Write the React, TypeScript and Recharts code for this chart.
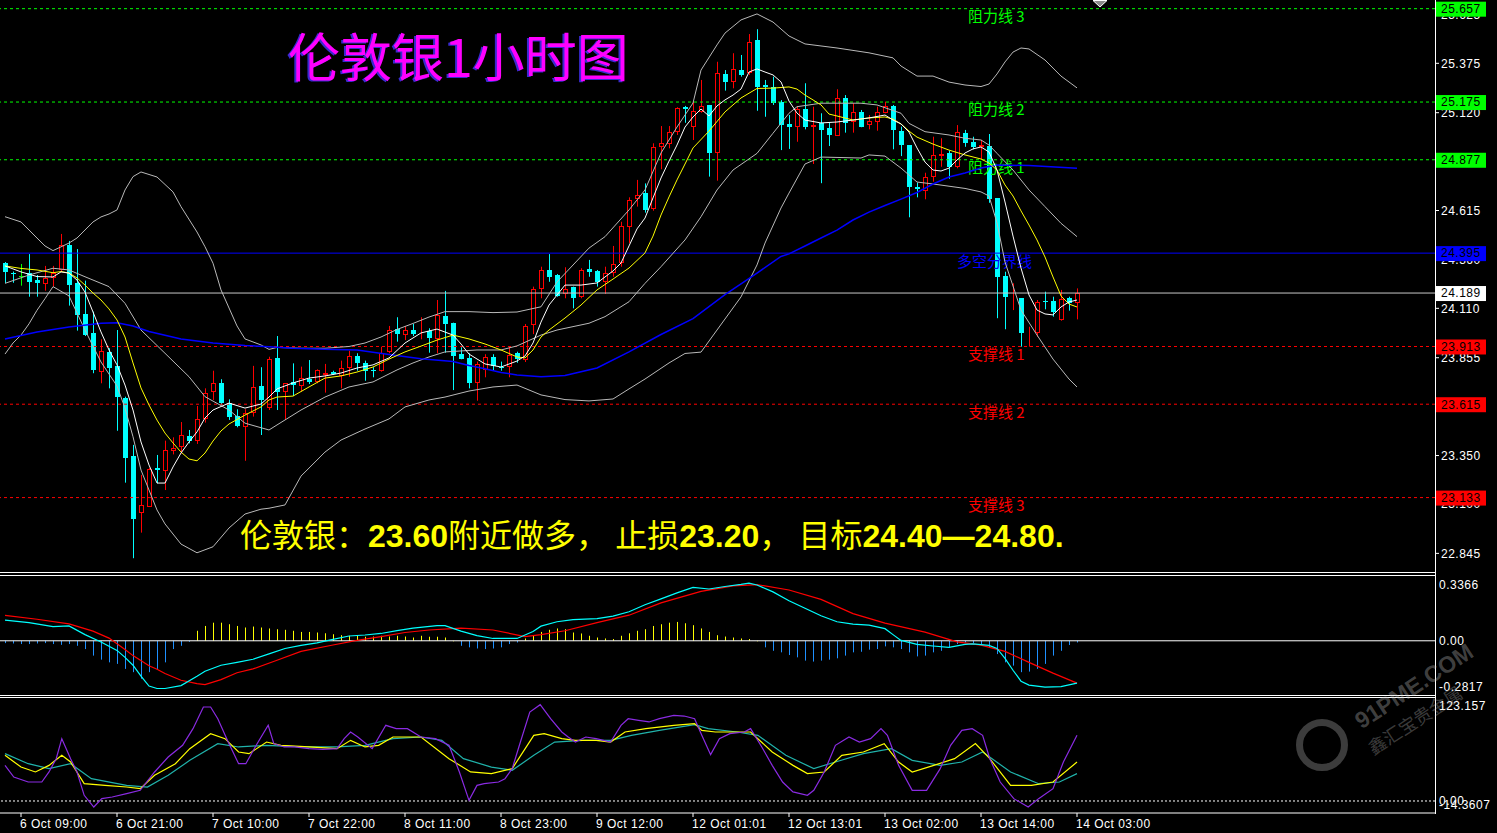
import { Bar, ComposedChart, Line, ReferenceLine, XAxis, YAxis } from "recharts";

// XAG/USD 1H candles, bar 0 = 6 Oct 07:00 ... bar 134 = 14 Oct 03:00
const opens = [
  24.344, 24.294, 24.279, 24.291, 24.256, 24.236, 24.267, 24.308, 24.435, 24.239,
  24.081, 23.981, 23.783, 23.885, 23.812, 23.646, 23.348, 23.052, 23.086, 23.284,
  23.272, 23.372, 23.393, 23.451, 23.427, 23.537, 23.676, 23.723, 23.62, 23.556,
  23.499, 23.571, 23.709, 23.594, 23.854, 23.676, 23.728, 23.711, 23.744, 23.731,
  23.766, 23.781, 23.761, 23.804, 23.864, 23.826, 23.79, 23.785, 23.886, 24.002,
  23.972, 23.998, 23.984, 23.994, 23.952, 24.071, 24.036, 23.873, 23.852, 23.726,
  23.792, 23.857, 23.809, 23.806, 23.878, 23.843, 24.022, 24.208, 24.308, 24.282,
  24.184, 24.219, 24.17, 24.313, 24.304, 24.244, 24.291, 24.346, 24.528, 24.673,
  24.704, 24.621, 24.941, 24.958, 25.022, 25.148, 25.048, 25.125, 25.16, 24.91,
  25.32, 25.28, 25.34, 25.323, 25.495, 25.263, 25.254, 25.177, 25.062, 25.048,
  25.137, 25.048, 25.065, 25.039, 25.001, 25.194, 25.073, 25.125, 25.056, 25.073,
  25.12, 25.155, 25.027, 24.953, 24.738, 24.717, 24.786, 24.896, 24.913, 24.841,
  25.017, 24.97, 24.943, 24.948, 24.678, 24.277, 24.162, 24.162, 23.981, 23.984,
  24.149, 24.149, 24.05, 24.162, 24.138,
];
const highs = [
  24.349, 24.3, 24.339, 24.39, 24.282, 24.329, 24.329, 24.494, 24.458, 24.416,
  24.253, 24.093, 23.95, 23.904, 23.998, 23.654, 23.405, 23.25, 23.286, 23.353,
  23.427, 23.444, 23.523, 23.482, 23.606, 23.697, 23.788, 23.744, 23.64, 23.589,
  23.589, 23.813, 23.806, 23.86, 23.967, 23.723, 23.826, 23.809, 23.843, 23.795,
  23.823, 23.788, 23.84, 23.891, 23.878, 23.84, 23.806, 23.912, 24.019, 24.064,
  24.019, 24.029, 24.064, 24.007, 24.153, 24.2, 24.036, 23.909, 23.878, 23.835,
  23.873, 23.873, 23.835, 23.912, 23.886, 24.029, 24.222, 24.325, 24.39, 24.287,
  24.322, 24.222, 24.317, 24.36, 24.308, 24.325, 24.432, 24.557, 24.683, 24.773,
  24.755, 24.962, 25.051, 25.051, 25.148, 25.155, 25.177, 25.289, 25.16, 25.383,
  25.34, 25.427, 25.418, 25.526, 25.551, 25.289, 25.306, 25.185, 25.108, 25.151,
  25.272, 25.151, 25.117, 25.068, 25.241, 25.211, 25.169, 25.134, 25.108, 25.151,
  25.177, 25.16, 25.048, 24.953, 24.759, 24.81, 24.996, 24.988, 24.924, 25.056,
  25.031, 24.996, 24.98, 25.01, 24.678, 24.299, 24.239, 24.162, 24.015, 24.153,
  24.196, 24.17, 24.205, 24.17, 24.213,
];
const lows = [
  24.241, 24.242, 24.227, 24.17, 24.17, 24.201, 24.222, 24.299, 24.124, 23.995,
  23.967, 23.775, 23.723, 23.697, 23.478, 23.21, 22.82, 22.952, 23.086, 23.207,
  23.172, 23.356, 23.361, 23.413, 23.41, 23.52, 23.637, 23.611, 23.534, 23.496,
  23.323, 23.551, 23.456, 23.585, 23.585, 23.534, 23.657, 23.68, 23.719, 23.723,
  23.675, 23.766, 23.697, 23.757, 23.788, 23.736, 23.754, 23.783, 23.878, 23.938,
  23.946, 23.967, 23.95, 23.881, 23.878, 23.881, 23.688, 23.847, 23.697, 23.633,
  23.754, 23.788, 23.788, 23.754, 23.829, 23.833, 23.977, 24.162, 24.247, 24.17,
  24.162, 24.11, 24.162, 24.273, 24.222, 24.184, 24.273, 24.325, 24.446, 24.635,
  24.604, 24.614, 24.828, 24.936, 25.005, 25.068, 24.979, 25.12, 24.79, 24.769,
  25.234, 25.246, 25.306, 25.315, 25.13, 25.099, 25.16, 24.927, 24.933, 24.97,
  25.034, 24.855, 24.756, 24.948, 25.001, 25.017, 25.017, 25.045, 25.034, 25.027,
  25.117, 24.931, 24.896, 24.58, 24.683, 24.673, 24.764, 24.841, 24.779, 24.833,
  24.944, 24.931, 24.879, 24.655, 24.059, 24.002, 24.101, 23.912, 23.912, 23.963,
  24.105, 24.067, 24.046, 24.098, 24.053,
];
const closes = [
  24.296, 24.285, 24.279, 24.247, 24.242, 24.265, 24.294, 24.435, 24.23, 24.076,
  23.972, 23.792, 23.89, 23.801, 23.654, 23.339, 23.023, 23.093, 23.279, 23.275,
  23.379, 23.387, 23.455, 23.427, 23.537, 23.671, 23.723, 23.62, 23.551, 23.503,
  23.571, 23.702, 23.637, 23.847, 23.68, 23.723, 23.714, 23.749, 23.728, 23.792,
  23.775, 23.771, 23.801, 23.864, 23.829, 23.787, 23.785, 23.881, 23.998, 23.976,
  23.998, 23.977, 23.989, 23.958, 24.076, 24.028, 23.865, 23.848, 23.726, 23.821,
  23.857, 23.812, 23.801, 23.869, 23.848, 24.019, 24.208, 24.306, 24.273, 24.174,
  24.208, 24.165, 24.308, 24.296, 24.244, 24.291, 24.337, 24.535, 24.669, 24.694,
  24.618, 24.941, 24.962, 25.02, 25.143, 25.138, 25.13, 25.155, 24.913, 25.323,
  25.28, 25.344, 25.315, 25.487, 25.254, 25.254, 25.172, 25.056, 25.048, 25.137,
  25.045, 25.055, 25.031, 25.005, 25.194, 25.068, 25.125, 25.048, 25.079, 25.125,
  25.155, 25.031, 24.953, 24.735, 24.726, 24.786, 24.9, 24.907, 24.838, 25.022,
  24.962, 24.941, 24.951, 24.673, 24.273, 24.17, 24.17, 23.984, 23.988, 24.144,
  24.143, 24.093, 24.157, 24.138, 24.188,
];

const timeBars = [2, 14, 26, 38, 50, 62, 74, 86, 98, 110, 122, 134];
const timeLabels = [
  "6 Oct 09:00", "6 Oct 21:00", "7 Oct 10:00", "7 Oct 22:00", "8 Oct 11:00", "8 Oct 23:00",
  "9 Oct 12:00", "12 Oct 01:01", "12 Oct 13:01", "13 Oct 02:00", "13 Oct 14:00", "14 Oct 03:00",
];
const priceTicks = [25.625, 25.375, 25.12, 24.865, 24.615, 24.36, 24.11, 23.855, 23.605, 23.35, 23.1, 22.845];

const levelValues = [25.657, 25.175, 24.877, 24.395, 24.189, 23.913, 23.615, 23.133];
const levelNames = ["阻力线 3", "阻力线 2", "阻力线 1", "多空分界线", "", "支撑线 1", "支撑线 2", "支撑线 3"];
const levelKinds = ["res", "res", "res", "pivot", "last", "sup", "sup", "sup"];

// indicator lines, [bar, value]
const maWhite: [number, number][] = [
  [0, 24.329], [2, 24.298], [4, 24.274], [6, 24.272], [7, 24.298], [8, 24.292], [9, 24.256], [10, 24.194],
  [11, 24.091], [12, 23.988], [13, 23.895], [14, 23.818], [15, 23.714], [16, 23.585], [17, 23.42], [18, 23.301],
  [19, 23.208], [20, 23.208], [21, 23.291], [22, 23.363], [23, 23.42], [24, 23.472], [25, 23.544], [26, 23.585],
  [28, 23.621], [30, 23.595], [32, 23.616], [33, 23.652], [34, 23.694], [36, 23.725], [38, 23.75], [40, 23.761],
  [42, 23.776], [44, 23.802], [46, 23.818], [48, 23.854], [50, 23.931], [52, 23.983], [54, 24.003], [56, 23.972],
  [57, 23.926], [58, 23.874], [60, 23.823], [62, 23.807], [64, 23.838], [65, 23.864], [66, 23.931], [67, 24.039],
  [68, 24.127], [70, 24.23], [72, 24.23], [74, 24.241], [76, 24.303], [77, 24.344], [78, 24.432], [79, 24.52],
  [80, 24.576], [81, 24.68], [82, 24.783], [83, 24.87], [84, 24.953], [85, 25.046], [86, 25.098], [87, 25.139],
  [88, 25.103], [89, 25.155], [90, 25.186], [91, 25.211], [92, 25.242], [93, 25.33], [94, 25.346], [95, 25.33],
  [96, 25.315], [97, 25.279], [98, 25.18], [99, 25.118], [100, 25.082], [102, 25.067], [104, 25.072], [106, 25.082],
  [108, 25.093], [110, 25.108], [111, 25.082], [112, 25.062], [113, 25.02], [114, 24.938], [115, 24.865], [116, 24.824],
  [117, 24.819], [118, 24.834], [119, 24.876], [120, 24.912], [121, 24.933], [122, 24.943], [123, 24.917], [124, 24.824],
  [125, 24.659], [126, 24.483], [127, 24.318], [128, 24.179], [129, 24.101], [130, 24.081], [131, 24.076], [132, 24.117],
  [133, 24.143], [134, 24.153],
];
const maYellow: [number, number][] = [
  [0, 24.329], [2, 24.316], [4, 24.308], [6, 24.294], [7, 24.3], [8, 24.292], [9, 24.267], [10, 24.23],
  [11, 24.189], [12, 24.153], [13, 24.107], [14, 24.05], [15, 23.962], [16, 23.828], [17, 23.699], [18, 23.611],
  [19, 23.533], [20, 23.466], [21, 23.415], [22, 23.368], [23, 23.332], [24, 23.323], [25, 23.363], [26, 23.425],
  [27, 23.477], [28, 23.513], [30, 23.559], [32, 23.601], [33, 23.637], [34, 23.652], [36, 23.657], [38, 23.704],
  [40, 23.75], [42, 23.761], [44, 23.781], [46, 23.807], [48, 23.848], [50, 23.885], [52, 23.915], [54, 23.946],
  [56, 23.972], [58, 23.952], [60, 23.926], [62, 23.895], [64, 23.859], [65, 23.854], [66, 23.895], [67, 23.962],
  [68, 23.998], [70, 24.06], [72, 24.127], [74, 24.205], [76, 24.261], [78, 24.318], [80, 24.396], [81, 24.483],
  [82, 24.592], [83, 24.685], [84, 24.773], [85, 24.855], [86, 24.938], [88, 25.025], [90, 25.124], [92, 25.196],
  [94, 25.245], [96, 25.247], [98, 25.253], [99, 25.242], [100, 25.211], [101, 25.186], [102, 25.16], [103, 25.113],
  [104, 25.103], [106, 25.082], [108, 25.093], [110, 25.098], [111, 25.087], [112, 25.062], [113, 25.025], [114, 24.994],
  [116, 24.958], [118, 24.927], [120, 24.902], [122, 24.881], [123, 24.86], [124, 24.824], [125, 24.747], [126, 24.69],
  [127, 24.613], [128, 24.54], [129, 24.463], [130, 24.375], [131, 24.272], [132, 24.174], [133, 24.132], [134, 24.117],
];
const maBlue: [number, number][] = [
  [0, 23.952], [4, 23.988], [8, 24.014], [12, 24.033], [14, 24.036], [16, 24.019], [18, 23.99], [22, 23.952],
  [26, 23.931], [30, 23.918], [33, 23.912], [36, 23.904], [40, 23.899], [44, 23.895], [48, 23.872], [52, 23.85],
  [56, 23.835], [58, 23.815], [60, 23.798], [62, 23.779], [64, 23.766], [67, 23.757], [70, 23.763], [74, 23.802],
  [78, 23.885], [82, 23.975], [86, 24.057], [90, 24.181], [94, 24.292], [97, 24.378], [98, 24.391], [100, 24.432],
  [102, 24.473], [104, 24.514], [106, 24.566], [108, 24.607], [110, 24.641], [112, 24.674], [114, 24.708], [116, 24.752],
  [118, 24.788], [120, 24.809], [122, 24.834], [124, 24.85], [128, 24.847], [134, 24.833],
];
const bbUpper: [number, number][] = [
  [0, 24.583], [2, 24.556], [4, 24.473], [5, 24.432], [6, 24.408], [8, 24.447], [9, 24.473], [11, 24.556],
  [12, 24.582], [13, 24.597], [14, 24.618], [15, 24.721], [16, 24.79], [17, 24.814], [19, 24.788], [21, 24.711],
  [22, 24.635], [24, 24.504], [25, 24.428], [26, 24.343], [27, 24.205], [29, 24.019], [30, 23.952], [32, 23.921],
  [33, 23.898], [34, 23.908], [37, 23.904], [40, 23.904], [43, 23.913], [45, 23.931], [47, 23.962], [49, 24.001],
  [51, 24.032], [53, 24.065], [55, 24.093], [58, 24.093], [61, 24.088], [64, 24.091], [67, 24.118], [69, 24.246],
  [73, 24.421], [75, 24.48], [78, 24.618], [80, 24.721], [82, 24.912], [84, 25.046], [86, 25.17], [87, 25.34],
  [89, 25.47], [90, 25.531], [92, 25.599], [94, 25.63], [96, 25.588], [98, 25.516], [100, 25.475], [104, 25.454],
  [108, 25.429], [111, 25.403], [112, 25.361], [114, 25.309], [116, 25.309], [118, 25.278], [120, 25.263], [122, 25.255],
  [123, 25.268], [124, 25.32], [125, 25.382], [126, 25.433], [127, 25.454], [128, 25.449], [130, 25.392], [132, 25.309],
  [134, 25.248],
];
const bbMiddle: [number, number][] = [
  [0, 24.239], [3, 24.282], [6, 24.317], [8, 24.308], [10, 24.273], [13, 24.222], [15, 24.136], [17, 23.998],
  [20, 23.878], [23, 23.757], [25, 23.654], [28, 23.585], [30, 23.517], [33, 23.482], [34, 23.508], [37, 23.585],
  [40, 23.652], [43, 23.704], [46, 23.73], [49, 23.792], [51, 23.828], [53, 23.859], [55, 23.885], [59, 23.895],
  [62, 23.895], [64, 23.916], [67, 23.972], [69, 23.998], [73, 24.033], [75, 24.067], [78, 24.144], [80, 24.239],
  [82, 24.325], [85, 24.463], [87, 24.583], [89, 24.721], [91, 24.824], [94, 24.91], [96, 25.014], [98, 25.117],
  [99, 25.151], [102, 25.169], [104, 25.169], [107, 25.169], [109, 25.16], [112, 25.117], [113, 25.065], [115, 25.022],
  [118, 25.005], [120, 24.988], [122, 24.979], [123, 24.953], [124, 24.91], [126, 24.824], [128, 24.721], [130, 24.635],
  [132, 24.549], [134, 24.48],
];
const bbLower: [number, number][] = [
  [0, 23.874], [1, 23.931], [2, 23.972], [3, 24.03], [4, 24.1], [5, 24.16], [6, 24.222], [8, 24.174],
  [9, 24.086], [10, 23.998], [11, 23.915], [12, 23.833], [14, 23.709], [15, 23.595], [16, 23.447], [17, 23.275],
  [19, 23.069], [20, 22.997], [22, 22.893], [24, 22.848], [26, 22.879], [28, 22.976], [30, 23.048], [32, 23.073],
  [33, 23.078], [35, 23.095], [37, 23.244], [40, 23.368], [42, 23.43], [45, 23.487], [48, 23.539], [50, 23.601],
  [53, 23.637], [55, 23.652], [58, 23.683], [61, 23.704], [64, 23.714], [67, 23.663], [70, 23.639], [73, 23.632],
  [76, 23.642], [78, 23.694], [80, 23.745], [83, 23.828], [85, 23.877], [87, 23.884], [89, 23.998], [92, 24.169],
  [94, 24.334], [95, 24.447], [97, 24.628], [98, 24.705], [100, 24.855], [102, 24.891], [104, 24.889], [107, 24.886],
  [108, 24.902], [110, 24.896], [112, 24.834], [114, 24.762], [116, 24.752], [120, 24.729], [122, 24.711], [123, 24.69],
  [124, 24.551], [125, 24.349], [127, 24.101], [129, 23.972], [131, 23.848], [133, 23.745], [134, 23.704],
];

const macdHist = [
  -0.012, -0.014, -0.017, -0.017, -0.014, -0.012, -0.017, -0.021, -0.017, -0.026,
  -0.043, -0.077, -0.098, -0.112, -0.12, -0.146, -0.163, -0.197, -0.163, -0.146,
  -0.112, -0.043, -0.026, -0.005, 0.052, 0.077, 0.094, 0.094, 0.086, 0.077,
  0.069, 0.074, 0.069, 0.064, 0.06, 0.057, 0.052, 0.046, 0.046, 0.043,
  0.039, 0.034, 0.029, 0.026, 0.026, 0.021, 0.022, 0.026, 0.022, 0.026,
  0.022, 0.017, 0.026, 0.021, 0.021, 0.017, 0, -0.026, -0.034, -0.04,
  -0.043, -0.04, -0.034, -0.017, -0.009, 0.012, 0.029, 0.046, 0.057, 0.064,
  0.06, 0.043, 0.038, 0.026, 0.017, 0.012, 0.009, 0.026, 0.039, 0.052,
  0.06, 0.077, 0.086, 0.094, 0.098, 0.091, 0.081, 0.064, 0.046, 0.029,
  0.022, 0.017, 0.012, 0.009, 0, -0.034, -0.052, -0.06, -0.074, -0.086,
  -0.103, -0.108, -0.103, -0.098, -0.091, -0.077, -0.06, -0.057, -0.046, -0.043,
  -0.029, -0.034, -0.043, -0.06, -0.081, -0.077, -0.06, -0.052, -0.034, -0.017,
  -0.009, -0.012, -0.017, -0.034, -0.069, -0.112, -0.129, -0.163, -0.16, -0.146,
  -0.12, -0.077, -0.052, -0.022, -0.009,
];
const macdDif: [number, number][] = [
  [0, 0.107], [3, 0.094], [6, 0.074], [8, 0.077], [10, 0.032], [12, -0.006], [14, -0.05], [15, -0.086],
  [16, -0.127], [17, -0.184], [18, -0.235], [19, -0.248], [20, -0.248], [22, -0.233], [24, -0.184], [25, -0.158],
  [27, -0.127], [29, -0.112], [31, -0.096], [33, -0.068], [35, -0.04], [37, -0.024], [39, -0.011], [41, 0.007],
  [43, 0.025], [45, 0.03], [47, 0.038], [49, 0.053], [51, 0.066], [54, 0.079], [55, 0.079], [57, 0.05],
  [59, 0.027], [61, 0.012], [64, 0.012], [66, 0.048], [67, 0.076], [69, 0.099], [71, 0.11], [74, 0.115],
  [76, 0.128], [78, 0.151], [80, 0.187], [82, 0.218], [84, 0.249], [86, 0.277], [88, 0.269], [90, 0.282],
  [92, 0.293], [93, 0.3], [94, 0.29], [96, 0.254], [98, 0.208], [100, 0.169], [102, 0.13], [104, 0.099],
  [106, 0.087], [108, 0.081], [110, 0.063], [111, 0.032], [112, 0.002], [114, -0.019], [116, -0.027], [118, -0.034],
  [120, -0.019], [121, -0.016], [123, -0.024], [124, -0.04], [125, -0.091], [126, -0.153], [127, -0.21], [128, -0.23],
  [130, -0.241], [132, -0.238], [134, -0.22],
];
const macdDea: [number, number][] = [
  [0, 0.132], [4, 0.112], [8, 0.088], [11, 0.05], [13, 0.014], [15, -0.045], [16, -0.077], [18, -0.13],
  [19, -0.148], [20, -0.17], [22, -0.205], [24, -0.223], [25, -0.228], [27, -0.202], [29, -0.166], [31, -0.146],
  [34, -0.101], [37, -0.055], [41, -0.022], [44, 0.002], [47, 0.022], [50, 0.043], [53, 0.056], [57, 0.066],
  [61, 0.056], [65, 0.022], [67, 0.032], [70, 0.052], [74, 0.094], [78, 0.133], [82, 0.197], [87, 0.257],
  [91, 0.285], [94, 0.292], [98, 0.264], [102, 0.215], [106, 0.141], [110, 0.092], [115, 0.045], [119, -0.006],
  [122, -0.023], [125, -0.055], [128, -0.112], [131, -0.168], [134, -0.22],
];

const kdjK: [number, number][] = [
  [0, 54.6], [2, 40.6], [3.8, 34.7], [5.5, 42.6], [7.1, 54.6], [8.2, 46.6], [9.9, 20.7], [12.5, 18.7],
  [15.2, 16.7], [16.9, 14.7], [18.7, 30.7], [21.3, 44.6], [23.1, 62.6], [25.7, 80.5], [27.5, 74.5], [29.2, 58.6],
  [30.5, 56.6], [32.7, 70.5], [34.5, 66.6], [38, 64.6], [41.5, 62.6], [43.2, 72.5], [45, 64.6], [46.7, 66.6],
  [48.5, 76.5], [52, 76.5], [55.5, 50.6], [58.2, 34.7], [60.8, 32.7], [63.4, 38.7], [66.1, 78.5], [67.4, 80.5],
  [69.6, 74.5], [71.3, 72.5], [73.9, 72.5], [75.7, 70.5], [77.5, 82.5], [80.1, 86.5], [83.6, 90.5], [86.2, 92.5],
  [87.1, 84.5], [88.8, 82.5], [91.5, 82.5], [93.2, 82.5], [95.9, 58.6], [98.5, 42.6], [100.3, 32.7], [102.4, 34.7],
  [104.6, 54.6], [107.3, 58.6], [109.9, 68.6], [111.7, 46.6], [113.4, 34.7], [116.1, 42.6], [118.7, 50.6], [121.3, 68.6],
  [123.1, 50.6], [125.7, 18.7], [128.3, 18.7], [131, 22.7], [134, 46.6],
];
const kdjD: [number, number][] = [
  [0, 56.6], [2.9, 44.6], [5.5, 38.7], [8.2, 44.6], [10.8, 26.7], [15.2, 18.7], [17.8, 16.7], [20.4, 30.7],
  [23.1, 48.6], [26.6, 68.6], [29.2, 64.6], [32.7, 66.6], [37.1, 64.6], [41.5, 64.6], [45, 66.6], [48.5, 74.5],
  [52, 76.5], [54.6, 72.5], [57.3, 50.6], [60.8, 40.6], [63.4, 36.7], [66.1, 54.6], [68.7, 70.5], [72.2, 72.5],
  [75.7, 72.5], [78.3, 78.5], [81.8, 84.5], [86.2, 91.3], [87.9, 86.5], [91.5, 82.5], [94.1, 78.5], [97.6, 54.6],
  [101.1, 38.7], [103.8, 46.6], [107.3, 56.6], [110.8, 62.6], [113.4, 48.6], [116.9, 42.6], [119.6, 46.6], [122.2, 58.6],
  [125.7, 34.7], [129.2, 20.7], [131.8, 22.7], [134, 32.7],
];
const kdjJ: [number, number][] = [
  [0, 42.6], [1.1, 28.7], [2.9, 22.7], [4.6, 22.7], [5.5, 34.7], [6.4, 50.6], [7.1, 74.5], [8.2, 50.6],
  [9, 34.7], [9.9, 6.8], [11.1, -7.2], [12.1, 2.8], [13.4, 4.8], [15.2, 8.8], [16.9, 12.8], [18.7, 34.7],
  [20.4, 52.6], [22.2, 66.6], [23.5, 86.5], [24.8, 112.4], [25.7, 112.4], [26.6, 98.4], [27.9, 70.5], [29.2, 44.6],
  [30.1, 44.6], [31.4, 66.6], [32.9, 90.5], [33.6, 68.6], [34.9, 64.6], [36.2, 64.6], [38, 62.6], [39.7, 61.8],
  [41.5, 62.6], [42.4, 74.5], [43.2, 82.5], [44.1, 76.5], [45.9, 62.6], [47.6, 90.5], [48.9, 86.5], [50.3, 86.5],
  [52, 76.5], [53.8, 74.5], [55.5, 66.6], [56.8, 34.7], [58, 0.8], [59, 18.7], [59.9, 20.7], [61.7, 22.7],
  [62.5, 26.7], [63.4, 38.7], [64.3, 66.6], [65.6, 106.4], [66.9, 115.2], [68.2, 98.4], [69.6, 82.5], [70.4, 76.5],
  [71.3, 70.5], [72.6, 76.5], [73.9, 74.5], [75.7, 70.5], [77, 90.5], [77.9, 98.4], [79.2, 96.5], [80.5, 94.5],
  [81.8, 98.4], [83.6, 102.4], [84.9, 101.6], [86.2, 98.4], [87.1, 78.5], [88.2, 55.4], [89.3, 74.5], [90.6, 80.5],
  [92.4, 82.5], [93.2, 86.5], [94.6, 64.6], [95.9, 42.6], [97.2, 22.7], [98.5, 10.8], [100.3, 6.8], [101.1, 12.8],
  [102.4, 34.7], [103.8, 66.6], [105.5, 76.5], [106.8, 70.5], [108.2, 74.5], [109.5, 86.5], [110.3, 78.5], [111.7, 42.6],
  [113.4, 12.8], [115.2, 12.8], [116.9, 38.7], [118.2, 66.6], [119.6, 84.5], [120.9, 86.5], [122.2, 78.5], [123.1, 50.6],
  [124.4, 22.7], [126.1, 2.8], [127.9, -7.2], [129.2, 2.8], [131, 14.7], [132.3, 46.6], [134, 78.5],
];

const UP = "#FF0000";
const DOWN = "#00FFFF";
const FLAT = "#00FF00";
const BAND = "#B9B9B9";
const FONT = '"Liberation Sans", Arial, sans-serif';
const CJK = '"Noto Sans CJK SC", sans-serif';
const X_DOMAIN: [number, number] = [-0.625, 178.75];
const PRICE_DOMAIN: [number, number] = [22.7488, 25.7018];
const NO_MARGIN = { top: 0, right: 0, bottom: 0, left: 0 };

const levelStyle: Record<string, { line: string; dash?: string; box: string; name: string; nameX: number }> = {
  res: { line: "#00FF00", dash: "3 3", box: "#00FF00", name: "#00FF00", nameX: 968 },
  pivot: { line: "#0000FF", box: "#0000FF", name: "#0000FF", nameX: 957 },
  last: { line: "#C8C8C8", box: "#FFFFFF", name: "#FFFFFF", nameX: 0 },
  sup: { line: "#FF0000", dash: "3 3", box: "#FF0000", name: "#FF0000", nameX: 968 },
};

const candles = opens.map((o, i) => ({
  x: i,
  o,
  h: highs[i],
  l: lows[i],
  c: closes[i],
  range: [lows[i], highs[i]],
}));
const histRows = macdHist.map((v, i) => ({ x: i, v }));
const pts = (rows: [number, number][]) => rows.map(([x, v]) => ({ x, v }));

function Candle(props: any) {
  const { x, y, width, height, payload } = props;
  if (!payload || height == null || isNaN(y)) return null;
  const { o, h, l, c } = payload;
  const cx = Math.round(x + width / 2);
  const toY = (v: number) => y + ((h - v) / (h - l)) * height;
  const color = c > o ? UP : c < o ? DOWN : FLAT;
  const top = Math.round(toY(Math.max(o, c)));
  const bh = Math.max(1, Math.round(toY(Math.min(o, c))) - top);
  return (
    <g>
      <line x1={cx + 0.5} x2={cx + 0.5} y1={y} y2={y + height} stroke={color} />
      {c > o ? (
        <rect x={cx - 1.5} y={top + 0.5} width={4} height={Math.max(0, bh - 1)} fill="#000" stroke={color} />
      ) : (
        <rect x={cx - 2} y={top} width={5} height={bh} fill={color} />
      )}
    </g>
  );
}

function HistBar(props: any) {
  const { x, y, width, height, payload } = props;
  if (!payload || height == null || isNaN(y)) return null;
  const top = Math.min(y, y + height);
  return (
    <rect
      x={Math.round(x + width / 2)}
      y={top}
      width={1}
      height={Math.max(Math.abs(height), 0.5)}
      fill={payload.v >= 0 ? "#FFFF00" : "#1E90FF"}
    />
  );
}

// name text sits in the price pane, the value box on the axis is drawn by the overlay
function LevelTag(props: any) {
  const { viewBox, value, name, kind, part } = props;
  if (!viewBox) return null;
  const st = levelStyle[kind];
  const y = viewBox.y;
  if (part === "name") {
    if (!name) return null;
    return (
      <text x={st.nameX} y={y + 8} dy="0.36em" fill={st.name} fontSize={15} fontFamily={CJK}>
        {name}
      </text>
    );
  }
  const bx = viewBox.x + viewBox.width + 1;
  return (
    <g>
      <rect x={bx} y={y - 7} width={50} height={15} fill={st.box} />
      <text x={bx + 5} y={y} dy="0.36em" fill="#000" fontSize={12} letterSpacing={0.5} fontFamily={FONT}>
        {value.toFixed(3)}
      </text>
    </g>
  );
}

function SideTick(props: any) {
  const { x, y, payload, fmt, shift } = props;
  const v = payload.value;
  return (
    <text x={x} y={y + (shift[String(v)] || 0)} dy="0.36em" fill="#fff" fontSize={12} letterSpacing={0.5} textAnchor="start">
      {fmt(v)}
    </text>
  );
}

function TimeTick(props: any) {
  const { x, y, payload } = props;
  const k = timeBars.indexOf(payload.value);
  return (
    <text x={x - 1} y={y + 9} fill="#fff" fontSize={12} letterSpacing={0.5} textAnchor="start">
      {timeLabels[k]}
    </text>
  );
}

function hline(top: number) {
  return <div style={{ position: "absolute", left: 0, top, width: 1436, height: 1, background: "#fff" }} />;
}

export default function App() {
  const lineProps = { dataKey: "v", dot: false, activeDot: false, isAnimationActive: false, type: "linear" as const };
  return (
    <div
      style={{
        position: "absolute",
        left: 0,
        top: 0,
        width: 1497,
        height: 833,
        background: "#000",
        overflow: "hidden",
        fontFamily: FONT,
      }}
    >
      {/* price pane */}
      <div style={{ position: "absolute", left: 0, top: 0 }}>
        <ComposedChart width={1497} height={572} data={candles} margin={NO_MARGIN}>
          <XAxis type="number" dataKey="x" domain={X_DOMAIN} hide allowDataOverflow />
          <YAxis
            orientation="right"
            width={62}
            domain={PRICE_DOMAIN}
            ticks={priceTicks}
            interval={0}
            allowDataOverflow
            axisLine={false}
            tickSize={4}
            tickMargin={2}
            tickLine={{ stroke: "#fff" }}
            tick={{ fill: "#fff", fontSize: 12, letterSpacing: 0.5 }}
            tickFormatter={(v: number) => v.toFixed(3)}
          />
          {levelValues.map((v, i) => (
            <ReferenceLine
              key={v}
              y={v}
              stroke={levelStyle[levelKinds[i]].line}
              strokeDasharray={levelStyle[levelKinds[i]].dash}
              label={<LevelTag value={v} name={levelNames[i]} kind={levelKinds[i]} part="name" />}
            />
          ))}
          <Bar dataKey="range" barSize={6} shape={<Candle />} isAnimationActive={false} />
          <Line {...lineProps} data={pts(bbUpper)} stroke={BAND} strokeWidth={1} />
          <Line {...lineProps} data={pts(bbMiddle)} stroke={BAND} strokeWidth={1} />
          <Line {...lineProps} data={pts(bbLower)} stroke={BAND} strokeWidth={1} />
          <Line {...lineProps} data={pts(maBlue)} stroke="#0000FF" strokeWidth={1.5} />
          <Line {...lineProps} data={pts(maYellow)} stroke="#FFFF00" strokeWidth={1} />
          <Line {...lineProps} data={pts(maWhite)} stroke="#FFFFFF" strokeWidth={1} />
        </ComposedChart>
      </div>

      {/* axis value boxes, on top of the price ticks */}
      <div style={{ position: "absolute", left: 0, top: 0 }}>
        <ComposedChart width={1497} height={572} data={candles} margin={NO_MARGIN}>
          <XAxis type="number" dataKey="x" domain={X_DOMAIN} hide allowDataOverflow />
          <YAxis orientation="right" width={62} domain={PRICE_DOMAIN} allowDataOverflow axisLine={false} tickLine={false} tick={false} />
          {levelValues.map((v, i) => (
            <ReferenceLine
              key={v}
              y={v}
              stroke="none"
              label={<LevelTag value={v} name={levelNames[i]} kind={levelKinds[i]} part="box" />}
            />
          ))}
        </ComposedChart>
      </div>

      {/* MACD pane */}
      <div style={{ position: "absolute", left: 0, top: 576 }}>
        <ComposedChart width={1497} height={119} data={histRows} margin={NO_MARGIN}>
          <XAxis type="number" dataKey="x" domain={X_DOMAIN} hide allowDataOverflow />
          <YAxis
            orientation="right"
            width={62}
            domain={[-0.2817, 0.3366]}
            ticks={[0.3366, 0, -0.2817]}
            interval={0}
            allowDataOverflow
            axisLine={false}
            tickLine={false}
            tickSize={2}
            tickMargin={2}
            tick={(p: any) => (
              <SideTick {...p} shift={{ "0.3366": 9, "-0.2817": -8 }} fmt={(v: number) => (v === 0 ? "0.00" : String(v))} />
            )}
          />
          <ReferenceLine y={0} stroke="#fff" />
          <Bar dataKey="v" barSize={2} shape={<HistBar />} isAnimationActive={false} />
          <Line {...lineProps} data={pts(macdDea)} stroke="#FF0000" strokeWidth={1.2} />
          <Line {...lineProps} data={pts(macdDif)} stroke="#00FFFF" strokeWidth={1.2} />
        </ComposedChart>
      </div>

      {/* KDJ pane + time axis */}
      <div style={{ position: "absolute", left: 0, top: 698 }}>
        <ComposedChart width={1497} height={135} data={histRows} margin={NO_MARGIN}>
          <XAxis
            type="number"
            dataKey="x"
            domain={X_DOMAIN}
            allowDataOverflow
            ticks={timeBars}
            interval={0}
            height={20}
            axisLine={{ stroke: "#fff" }}
            tickLine={{ stroke: "#fff" }}
            tickSize={4}
            tickMargin={2}
            tick={<TimeTick />}
          />
          <YAxis
            orientation="right"
            width={62}
            domain={[-14.3607, 123.157]}
            ticks={[123.157, 0, -14.3607]}
            interval={0}
            allowDataOverflow
            axisLine={false}
            tickLine={false}
            tickSize={2}
            tickMargin={2}
            tick={(p: any) => (
              <SideTick {...p} shift={{ "123.157": 8, "-14.3607": -8 }} fmt={(v: number) => (v === 0 ? "0.00" : String(v))} />
            )}
          />
          <ReferenceLine y={0} stroke="#fff" strokeDasharray="2 2" />
          <Line {...lineProps} data={pts(kdjD)} stroke="#20B2AA" strokeWidth={1.2} />
          <Line {...lineProps} data={pts(kdjK)} stroke="#FFFF00" strokeWidth={1.2} />
          <Line {...lineProps} data={pts(kdjJ)} stroke="#8A2BE2" strokeWidth={1.2} />
        </ComposedChart>
      </div>

      {/* pane frames */}
      {hline(572)}
      {hline(575)}
      {hline(695)}
      {hline(697)}
      <div style={{ position: "absolute", left: 1435, top: 0, width: 1, height: 814, background: "#fff" }} />
      <svg style={{ position: "absolute", left: 1092, top: 0 }} width={16} height={8}>
        <polygon points="1,0.5 15,0.5 8,7" fill="#8C8C8C" stroke="#fff" strokeWidth={1} />
      </svg>

      {/* annotations */}
      <div
        style={{
          position: "absolute",
          left: 288,
          top: 29,
          fontSize: 52,
          lineHeight: "52px",
          color: "#FF00FF",
          fontFamily: CJK,
          textShadow: "-2px 1px 0 #3a2ad0",
          whiteSpace: "nowrap",
        }}
      >
        伦敦银1小时图
      </div>
      <div
        style={{
          position: "absolute",
          left: 240,
          top: 517,
          fontSize: 32,
          lineHeight: "32px",
          color: "#FFFF00",
          fontFamily: CJK,
          whiteSpace: "nowrap",
        }}
      >
        伦敦银：<b style={{ fontFamily: FONT }}>23.60</b>附近做多，&nbsp;止损<b style={{ fontFamily: FONT }}>23.20</b>，&nbsp;目标
        <b style={{ fontFamily: FONT }}>24.40—24.80.</b>
      </div>

      {/* watermark */}
      <div
        style={{
          position: "absolute",
          left: 1296,
          top: 719,
          width: 52,
          height: 52,
          borderRadius: 26,
          border: "7px solid rgba(200,200,200,0.3)",
          boxSizing: "border-box",
        }}
      />
      <div
        style={{
          position: "absolute",
          left: 1350,
          top: 712,
          transform: "rotate(-33deg)",
          transformOrigin: "left top",
          color: "rgba(200,200,200,0.32)",
          fontSize: 23,
          fontWeight: "bold",
          whiteSpace: "nowrap",
        }}
      >
        91PME.COM
      </div>
      <div
        style={{
          position: "absolute",
          left: 1362,
          top: 738,
          transform: "rotate(-33deg)",
          transformOrigin: "left top",
          color: "rgba(200,200,200,0.3)",
          fontSize: 18,
          fontFamily: CJK,
          whiteSpace: "nowrap",
        }}
      >
        鑫汇宝贵金属
      </div>
    </div>
  );
}
